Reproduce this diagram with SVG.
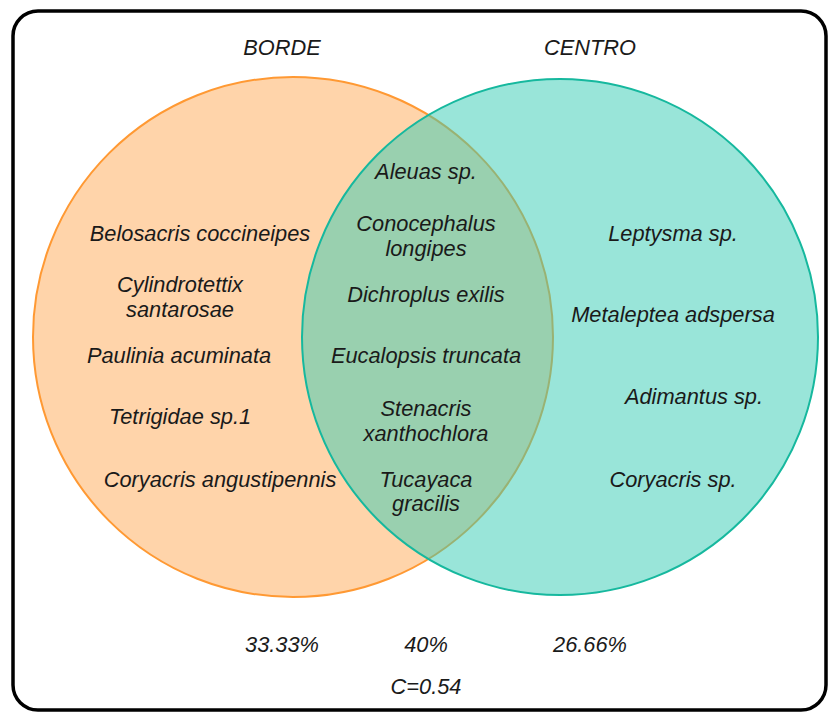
<svg xmlns="http://www.w3.org/2000/svg" width="828" height="714" viewBox="0 0 828 714">
<style>
text{font-family:"Liberation Sans",Arial,sans-serif;font-style:italic;font-size:21.8px;fill:#1a1a1a;text-anchor:middle}
.frame{fill:#fff;stroke:#000;stroke-width:3.5}
.borde{fill:#FFD4AA;stroke:#FF9933;stroke-width:2}
.centro{fill:#33CCB3;fill-opacity:0.5;stroke:#16B89E;stroke-width:2}
</style>
<rect class="frame" x="13" y="11" width="813" height="699" rx="25"/>
<g id="borde">
<circle class="borde" cx="293" cy="337" r="260"/>
</g>
<g id="centro">
<circle class="centro" cx="560" cy="337" r="258"/>
</g>
<g id="titles">
<text x="282" y="55">BORDE</text>
<text x="590" y="55">CENTRO</text>
</g>
<g id="borde-species">
<text x="200" y="241">Belosacris coccineipes</text>
<text x="180" y="292">Cylindrotettix</text>
<text x="180" y="317">santarosae</text>
<text x="179" y="363">Paulinia acuminata</text>
<text x="180" y="424">Tetrigidae sp.1</text>
<text x="220" y="487">Coryacris angustipennis</text>
</g>
<g id="shared-species">
<text x="426" y="179">Aleuas sp.</text>
<text x="426" y="231">Conocephalus</text>
<text x="426" y="256">longipes</text>
<text x="426" y="302">Dichroplus exilis</text>
<text x="426" y="363">Eucalopsis truncata</text>
<text x="426" y="416">Stenacris</text>
<text x="426" y="441">xanthochlora</text>
<text x="426" y="487">Tucayaca</text>
<text x="426" y="511">gracilis</text>
</g>
<g id="centro-species">
<text x="673" y="241">Leptysma sp.</text>
<text x="673" y="322">Metaleptea adspersa</text>
<text x="694" y="404">Adimantus sp.</text>
<text x="673" y="487">Coryacris sp.</text>
</g>
<g id="stats">
<text x="282" y="652">33.33%</text>
<text x="426" y="652">40%</text>
<text x="590" y="652">26.66%</text>
<text x="426" y="694">C=0.54</text>
</g>
<g id="connectors"/>
</svg>
